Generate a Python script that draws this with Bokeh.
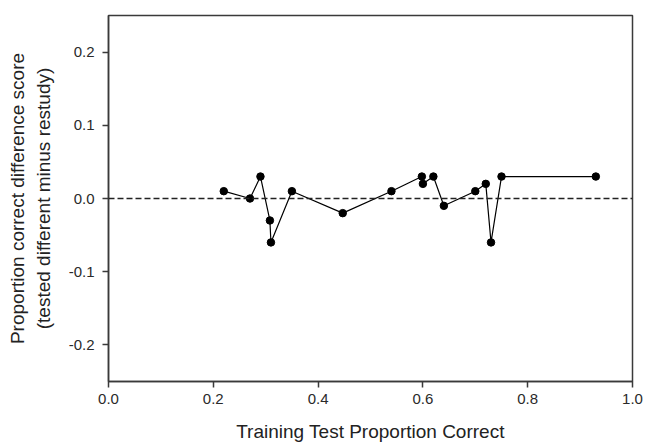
from bokeh.plotting import figure
from bokeh.models import Range1d, FixedTicker, NumeralTickFormatter, Span, ColumnDataSource
from bokeh.embed import file_html
from bokeh.resources import INLINE

# Data
training_prop = [0.22, 0.27, 0.29, 0.308, 0.31, 0.35, 0.447, 0.54, 0.598, 0.60, 0.62,
                 0.64, 0.70, 0.72, 0.73, 0.75, 0.93]
diff_score = [0.01, 0.00, 0.03, -0.03, -0.06, 0.01, -0.02, 0.01, 0.03, 0.02, 0.03,
              -0.01, 0.01, 0.02, -0.06, 0.03, 0.03]
x_ticks = [0.0, 0.2, 0.4, 0.6, 0.8, 1.0]
y_ticks = [-0.2, -0.1, 0.0, 0.1, 0.2]

src = ColumnDataSource(dict(x=training_prop, y=diff_score))

p = figure(width=646, height=446, output_backend="svg", toolbar_location=None,
           x_range=Range1d(0, 1), y_range=Range1d(-0.25, 0.25),
           min_border_left=108, min_border_right=14, min_border_top=15, min_border_bottom=65)
p.frame_width = 524
p.frame_height = 366

FONT = "Liberation Sans"
GRAY = "#3a3a3a"

p.xgrid.visible = False
p.ygrid.visible = False
p.outline_line_color = GRAY
p.outline_line_width = 1.5
p.background_fill_color = "white"
p.border_fill_color = "white"

for ax in (p.xaxis[0], p.yaxis[0]):
    ax.axis_line_color = GRAY
    ax.axis_line_width = 1.5
    ax.major_tick_line_color = GRAY
    ax.major_tick_line_width = 1.5
    ax.major_tick_out = 6
    ax.major_tick_in = 0
    ax.minor_tick_line_color = None
    ax.major_label_text_font = FONT
    ax.major_label_text_font_size = "15px"
    ax.major_label_text_color = "#2a2a2a"
    ax.axis_label_text_font = FONT
    ax.axis_label_text_font_size = "19px"
    ax.axis_label_text_font_style = "normal"
    ax.axis_label_text_color = "#222222"
    ax.formatter = NumeralTickFormatter(format="0.0")

p.xaxis.ticker = FixedTicker(ticks=x_ticks)
p.yaxis.ticker = FixedTicker(ticks=y_ticks)
p.xaxis.major_label_standoff = 6
p.yaxis.major_label_standoff = 8
p.xaxis.axis_label = "Training Test Proportion Correct"
p.xaxis.axis_label_standoff = 14
p.yaxis.axis_label = "Proportion correct difference score\n(tested different minus restudy)"
p.yaxis.axis_label_standoff = 12

zero = Span(location=0, dimension="width", line_color="#222222", line_width=1.3,
            line_dash="6 3")
p.add_layout(zero)

p.line("x", "y", source=src, line_color="black", line_width=1.2)
p.scatter("x", "y", source=src, size=7.5, fill_color="black", line_color="black")

open("out.html", "w").write(file_html(p, INLINE))
